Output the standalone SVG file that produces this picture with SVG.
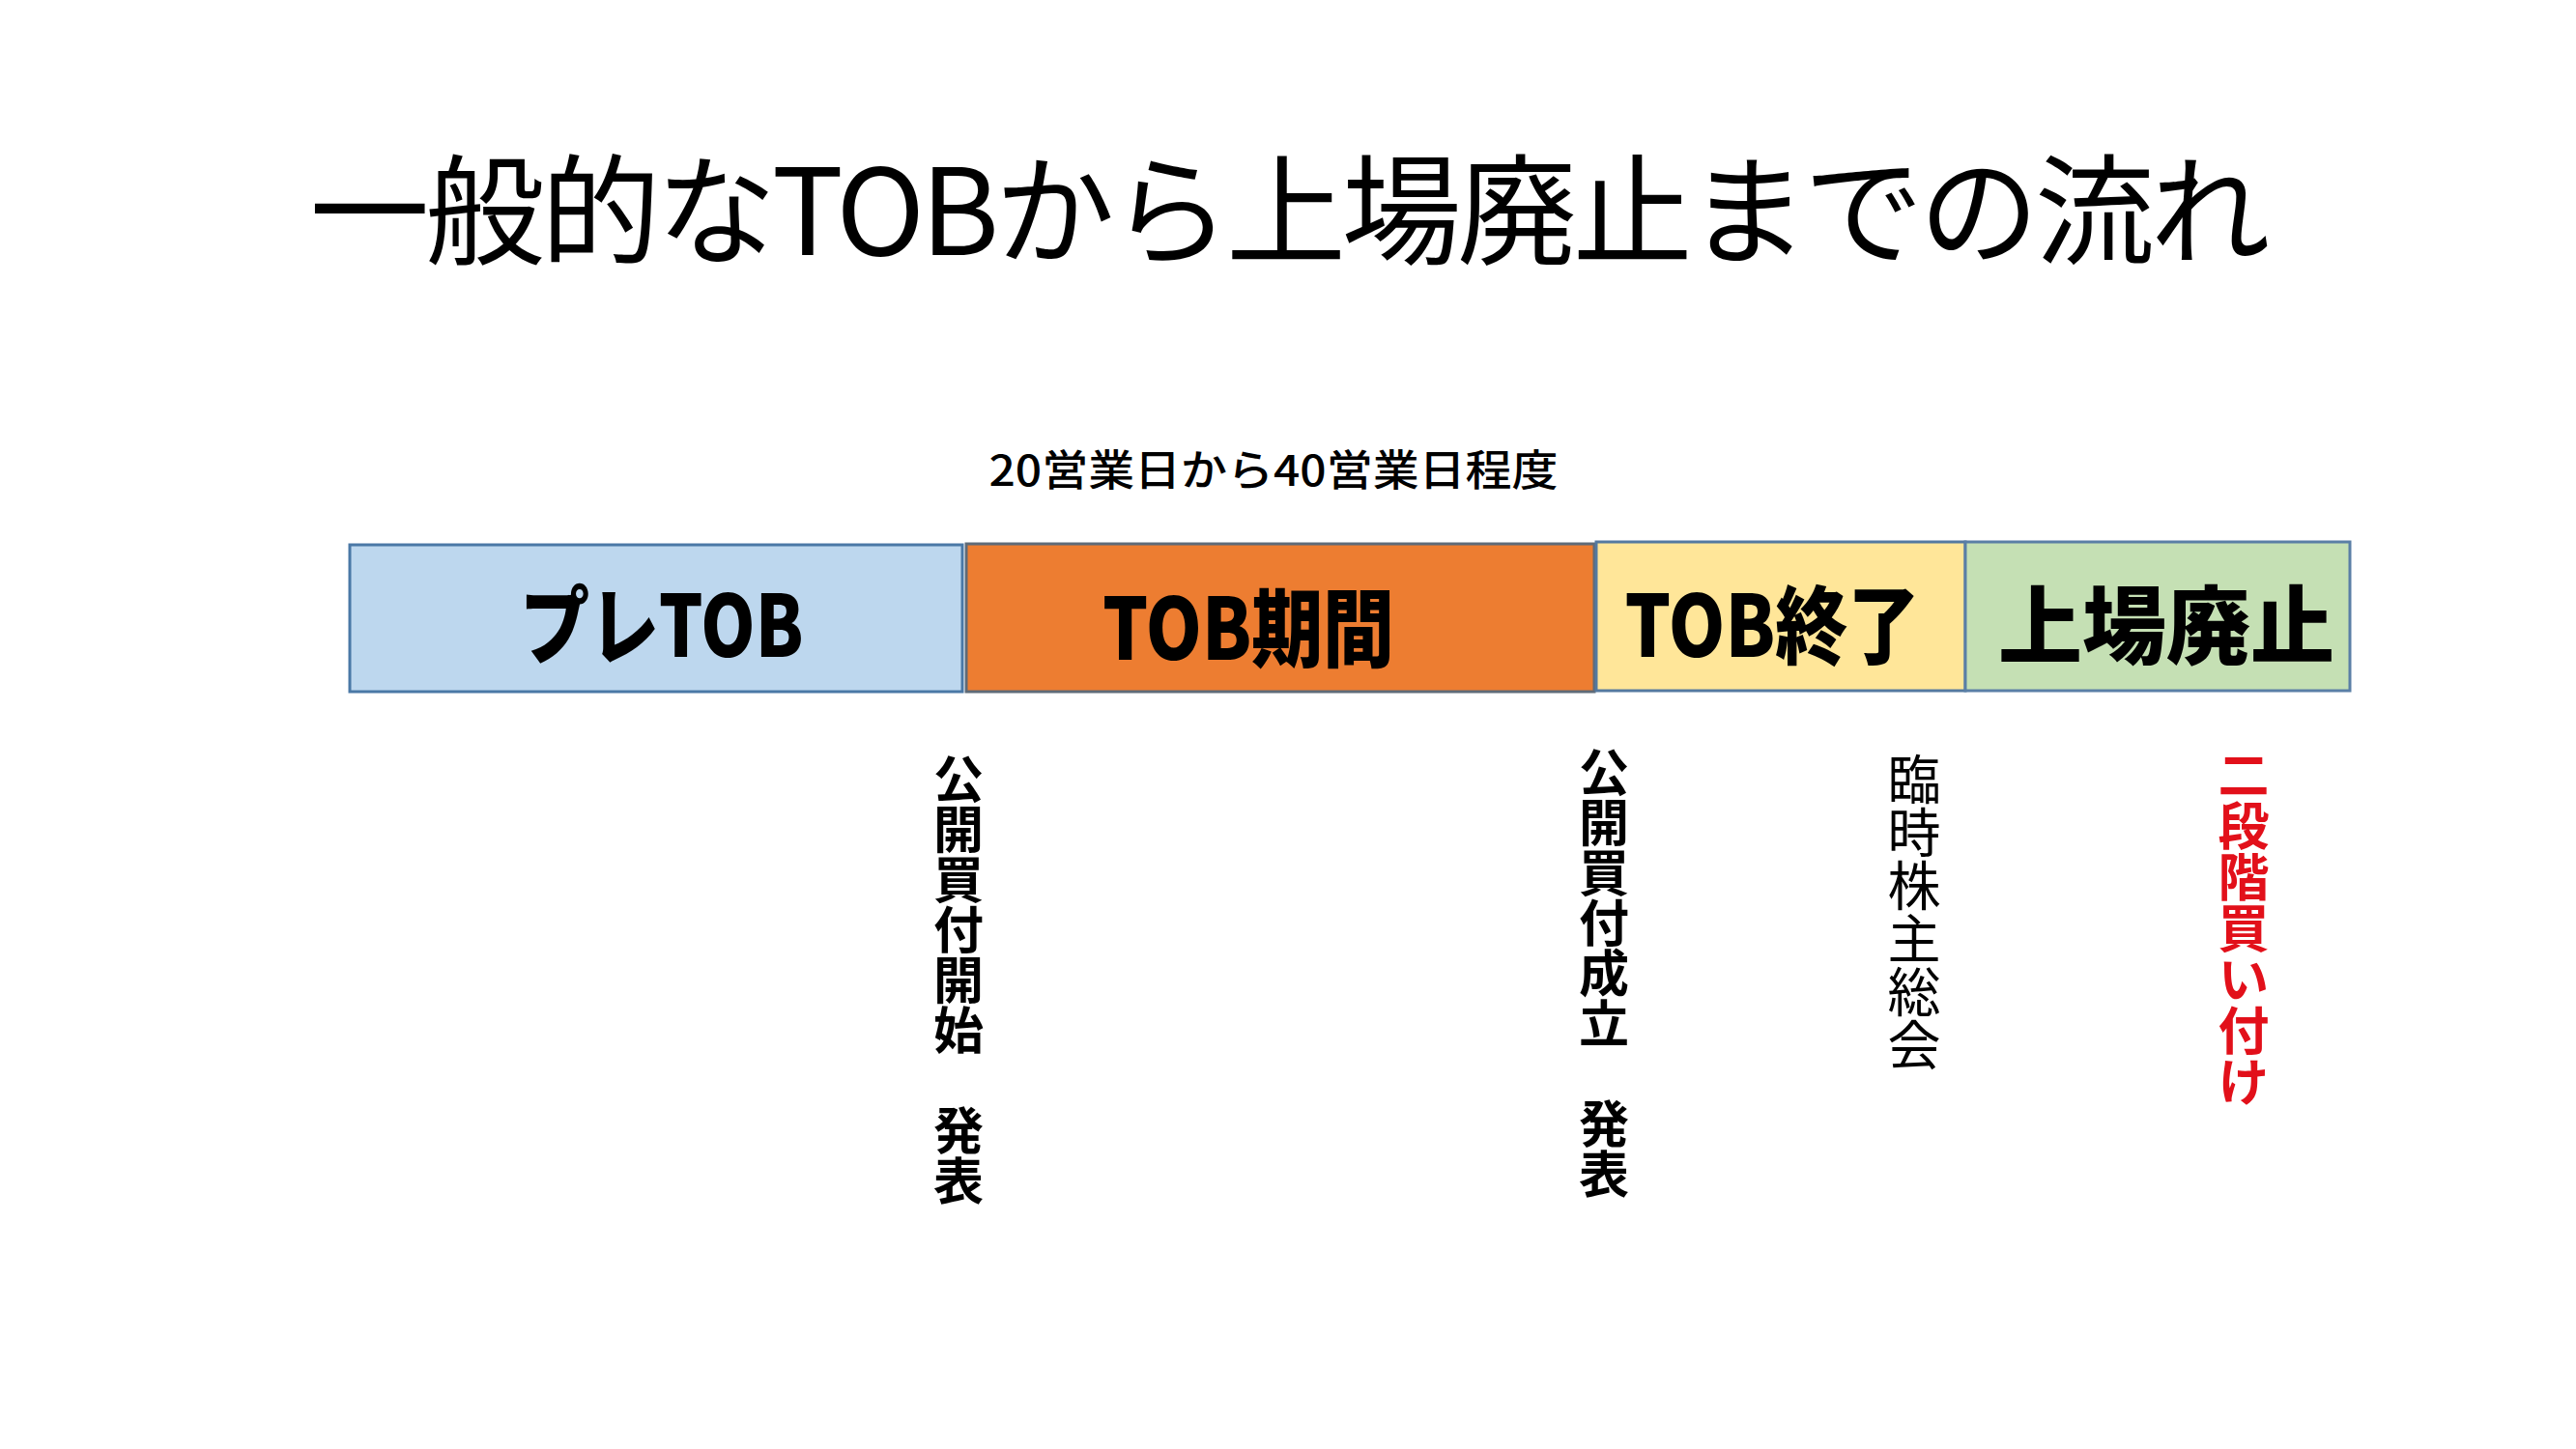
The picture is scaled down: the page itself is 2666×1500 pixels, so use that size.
<svg xmlns="http://www.w3.org/2000/svg" width="2666" height="1500" viewBox="0 0 2666 1500">
<style>
.jp{font-family:"Noto Sans CJK JP","Noto Sans CJK SC",sans-serif;}
.title{font-size:124px;font-weight:400;fill:#000;}
.sub{font-size:44px;font-weight:500;fill:#000;}
.box{stroke-width:3;}
.lbl{font-size:88px;font-weight:900;fill:#000;}
.vert{writing-mode:vertical-rl;text-orientation:upright;dominant-baseline:central;}
.vt{font-size:52px;font-weight:700;fill:#000;}
.vr{font-size:55px;font-weight:400;fill:#000;}
.vred{font-size:53px;font-weight:700;fill:#E2101A;}
</style>
<rect x="0" y="0" width="2666" height="1500" fill="#FFFFFF"/>
<g id="title">
<text class="jp title" x="1335" y="264" text-anchor="middle" textLength="2029" lengthAdjust="spacing">一般的なTOBから上場廃止までの流れ</text>
</g>
<g id="duration">
<text class="jp sub" x="1318" y="503" text-anchor="middle" textLength="589" lengthAdjust="spacingAndGlyphs">20営業日から40営業日程度</text>
</g>
<g id="node-pretob">
<rect class="box" x="362" y="564" width="634" height="152" fill="#BDD7EE" stroke="#4A78A6"/>
<text class="jp lbl" x="685" y="680" text-anchor="middle" textLength="293" lengthAdjust="spacingAndGlyphs">プレTOB</text>
</g>
<g id="node-tobperiod">
<rect class="box" x="1000" y="563" width="650" height="153" fill="#ED7D31" stroke="#5F6B78"/>
<text class="jp lbl" x="1292" y="683" text-anchor="middle" textLength="302" lengthAdjust="spacingAndGlyphs">TOB期間</text>
</g>
<g id="node-tobend">
<rect class="box" x="1652" y="561" width="382" height="154" fill="#FFE699" stroke="#5479A0"/>
<text class="jp lbl" x="1834" y="680" text-anchor="middle" textLength="305" lengthAdjust="spacingAndGlyphs">TOB終了</text>
</g>
<g id="node-delisting">
<rect class="box" x="2034" y="561" width="398" height="154" fill="#C5E0B4" stroke="#5A7FA6"/>
<text class="jp lbl" x="2242" y="680" text-anchor="middle" textLength="348" lengthAdjust="spacingAndGlyphs">上場廃止</text>
</g>
<g id="event-start">
<text class="jp vert vt" x="992" y="780">公開買付開始　発表</text>
</g>
<g id="event-success">
<text class="jp vert vt" x="1660" y="773">公開買付成立　発表</text>
</g>
<g id="event-egm">
<text class="jp vert vr" x="1981" y="779">臨時株主総会</text>
</g>
<g id="event-squeeze">
<text class="jp vert vred" x="2322" y="775">二段階買い付け</text>
</g>
<g id="connectors"></g>
</svg>
